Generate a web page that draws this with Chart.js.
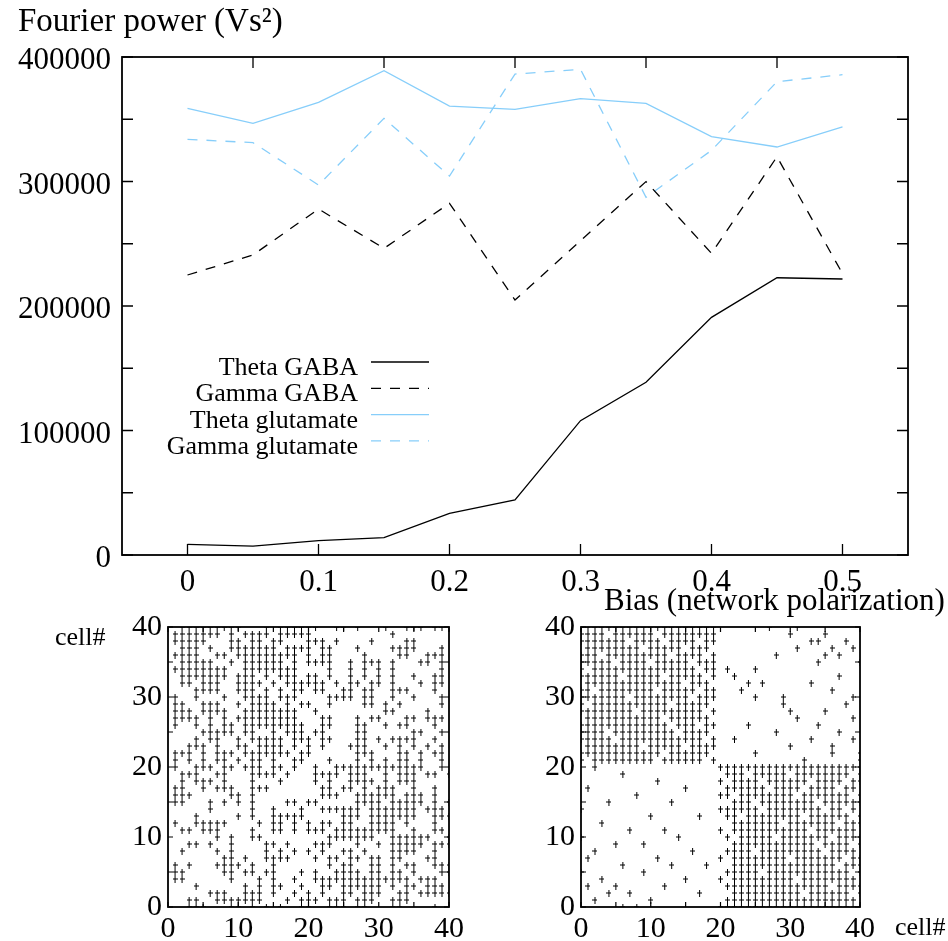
<!DOCTYPE html>
<html>
<head>
<meta charset="utf-8">
<script src="https://cdn.jsdelivr.net/npm/chart.js@4.4.1/dist/chart.umd.min.js"></script>
<style>
  html, body { margin: 0; padding: 0; background: #fff; }
  body { width: 948px; height: 941px; position: relative; overflow: hidden; }
  canvas { position: absolute; }
</style>
</head>
<body>
<canvas id="power" width="948" height="600" style="left:0;top:0"></canvas>
<canvas id="rasterUniform" width="474" height="361" style="left:0;top:580px"></canvas>
<canvas id="rasterPolarized" width="474" height="361" style="left:474px;top:580px"></canvas>
<script>
// ---- Fourier power vs. bias ----
const bias = [0, 0.05, 0.1, 0.15, 0.2, 0.25, 0.3, 0.35, 0.4, 0.45, 0.5];
const thetaGABA      = [8600, 7200, 11500, 13900, 33500, 44200, 107900, 138700, 190900, 222700, 221700];
const gammaGABA      = [224900, 241000, 277900, 246300, 282500, 204800, 252500, 299900, 242300, 319900, 226000];
const thetaGlutamate = [358800, 346700, 363600, 389000, 360600, 358000, 366500, 362800, 336000, 327700, 343800];
const gammaGlutamate = [333900, 331200, 297200, 350700, 304400, 386300, 390100, 287300, 325000, 380200, 385800];
const seriesNames = ['Theta GABA', 'Gamma GABA', 'Theta glutamate', 'Gamma glutamate'];

const biasTicks = [0, 0.1, 0.2, 0.3, 0.4, 0.5];
const biasTopTicks = [0.05, 0.15, 0.25, 0.35, 0.45];
const powerTicks = [0, 100000, 200000, 300000, 400000];
const powerTickMarks = [0, 50000, 100000, 150000, 200000, 250000, 300000, 350000, 400000];

// ---- spike rasters: for each cell (row 40 first, down to row 0), the cells it fires with ----
const uniformRows = [
  [2,3,4,5,6,7,8,9,10,14,16,17,18,19,20,21,24,25,27,31,34,35,36,38,39],
  [1,2,3,4,5,6,7,9,11,12,13,14,16,17,18,19,20,32],
  [1,2,3,4,5,9,10,12,13,15,16,20,21,22,24,29,34,35],
  [2,3,4,6,9,10,11,12,13,14,15,17,18,19,20,22,23,27,32,33,34,35,39],
  [1,2,3,4,7,8,10,11,12,13,14,15,16,17,18,20,22,23,28,33,34,37,38,39],
  [2,3,4,5,6,9,11,12,13,14,15,16,18,20,21,22,23,26,28,29,30,32,36,37,39],
  [1,2,3,4,5,6,7,8,11,12,13,14,15,16,17,18,23,26,28,30,32,39],
  [2,3,4,5,6,7,8,10,11,12,14,16,17,18,20,21,23,26,28,30,32,35,38,39],
  [2,3,5,6,7,10,11,12,13,15,17,18,19,20,21,22,24,26,27,29,30,32,36,38,39],
  [4,5,6,7,10,11,12,14,16,18,19,21,22,25,26,28,29,32,33,34,38],
  [1,4,8,11,12,13,14,16,17,18,23,24,25,26,28,29,32,35,39],
  [1,2,5,6,7,10,12,13,14,15,17,19,20,23,28,29,31,33,39],
  [1,2,3,5,6,7,8,11,12,13,14,15,16,17,18,21,31,32,37],
  [1,2,3,4,6,8,10,11,12,13,14,15,16,17,18,22,23,27,29,30,34,35,37,38,39],
  [1,4,6,8,9,11,12,13,14,15,16,17,18,19,22,23,27,28,31,33,34,38],
  [5,6,7,8,9,11,12,15,17,18,19,21,22,27,28,35,36,39],
  [4,6,7,10,12,13,14,15,16,18,19,20,22,23,27,28,30,32,33,34,35,38],
  [3,4,5,7,10,11,13,14,15,16,18,20,22,26,27,28,31,33,35,37,39],
  [1,2,3,5,7,8,9,11,12,13,14,15,16,17,19,20,27,28,29,33,34,36,38,39],
  [1,3,5,7,8,10,12,13,15,18,19,23,27,29,31,33,34,36,39],
  [1,4,5,6,8,9,11,12,13,15,16,18,21,24,25,26,27,28,29,30,31,32,33,34,35,36,39],
  [2,3,4,7,8,12,13,14,15,17,21,22,23,24,26,27,28,31,33,34,35,37,38,40],
  [2,4,5,6,8,12,16,21,23,26,27,28,29,31,33,34,35],
  [1,2,5,7,8,9,12,13,14,22,23,25,26,28,30,31,32,35,38],
  [1,2,3,9,10,12,22,23,24,27,28,29,30,31,32,34,35,36,38],
  [1,2,6,8,10,12,17,18,20,21,27,28,29,30,32,33,34,35,36,38,40],
  [6,12,15,19,22,23,24,25,26,27,29,30,31,32,33,34,35,37,38,39],
  [4,10,12,15,16,17,18,19,25,26,27,29,30,31,32,33,34,35,38,39,40],
  [1,4,5,6,7,8,13,15,16,18,20,22,23,25,26,29,30,31,32,34,38],
  [2,3,5,6,7,12,15,16,18,20,21,22,24,25,26,27,28,29,30,31,32,35,38,39],
  [7,9,12,13,23,24,25,26,27,28,29,32,33,34,35,36,37,40],
  [3,4,6,9,14,15,17,21,22,23,27,30,32,33,34,35,36,38,39,40],
  [2,7,9,14,16,18,20,22,25,26,28,32,33,34,35,38],
  [8,9,11,14,15,16,17,21,23,24,26,27,29,30,32,33,37,38],
  [1,3,7,8,9,10,12,15,23,25,26,29,30,32,34,35,38,39,40],
  [1,2,8,9,11,12,14,15,19,21,24,25,26,27,29,30,32,33,35,39,40],
  [1,2,9,13,15,18,21,22,23,24,25,26,27,28,29,30,31,32,33,34,36,37,38],
  [4,11,13,15,16,19,22,23,25,26,27,28,29,30,32,34,35,37,38,39],
  [6,7,8,11,12,13,15,18,20,22,25,26,28,29,30,33,34,36,37,38,39,40],
  [3,4,7,8,9,10,11,12,13,17,19,20,21,23,24,25,27,28,29,32,33,34],
  [3,4,5,9,10,12,14,16,19,20,23,24,25,27,28,32,33,38]
];
const polarizedRows = [
  [0,1,2,3,4,5,6,7,8,9,10,11,12,13,14,15,16,17,18,19,27,31],
  [0,1,2,3,5,6,7,8,9,10,12,13,14,15,16,17,18,19,30,35],
  [0,1,2,3,4,5,6,8,9,10,11,13,14,15,16,18,19,33,34,38],
  [1,2,3,4,5,6,7,8,10,11,12,13,14,16,17,18,31,36,39],
  [0,1,2,4,5,6,7,8,9,10,11,12,14,15,16,17,19,28,35,37],
  [0,1,2,3,4,6,7,8,9,11,12,13,14,15,17,18,19,34,40],
  [0,2,3,4,5,6,7,8,9,10,11,12,13,14,15,16,18,19,21,25],
  [0,1,2,3,4,5,7,8,9,10,11,13,14,15,16,17,19,22,37],
  [1,2,3,4,5,6,7,8,9,10,11,12,13,14,16,17,18,24,26,33],
  [0,1,3,4,5,6,7,8,9,10,12,13,14,15,16,18,19,23,36],
  [0,1,2,3,4,5,6,8,9,10,11,12,13,14,15,17,18,19,25,29,39],
  [0,2,3,4,5,6,7,8,9,10,11,12,14,15,16,17,18,29,38],
  [0,1,2,3,4,5,6,7,9,10,11,12,13,14,15,16,17,19,30,35],
  [1,2,3,4,5,6,7,8,9,10,11,13,14,15,16,17,18,31,39],
  [0,1,2,3,4,5,6,7,8,9,10,11,12,14,15,16,18,19,24,34],
  [0,1,2,3,5,6,7,8,9,10,11,12,13,15,16,17,18,28,37],
  [0,1,2,3,4,6,7,8,9,10,11,12,13,14,15,16,17,19,22,33,39],
  [1,2,3,4,5,6,7,8,10,11,12,13,14,16,17,18,19,30,36],
  [0,1,2,3,4,5,6,7,8,9,10,11,13,14,15,16,17,18,25,36,40],
  [0,2,3,4,5,6,7,8,9,10,12,13,14,15,16,17,19,32,40],
  [2,20,21,22,23,24,25,26,27,28,29,30,31,32,33,34,35,36,37,38,39,40],
  [6,21,22,23,25,26,27,28,29,31,32,33,34,35,36,37,38,40],
  [11,20,22,23,24,25,27,28,29,30,31,32,34,35,36,37,39,40],
  [1,15,21,22,23,24,25,26,28,29,30,31,33,34,35,36,38,39],
  [8,20,21,23,24,25,26,27,28,29,30,32,33,34,35,36,37,38,40],
  [4,13,22,23,24,26,27,28,29,30,31,32,33,35,36,37,38,39,40],
  [0,20,21,22,23,24,25,27,28,29,30,31,32,33,34,36,37,39],
  [10,17,21,22,24,25,26,27,28,29,30,31,33,34,35,36,37,38,40],
  [3,22,23,24,25,26,27,28,30,31,32,33,34,35,36,38,39,40],
  [7,12,20,22,23,24,25,26,27,28,29,30,31,32,34,35,36,37,38,39],
  [0,14,21,23,24,25,26,27,29,30,31,32,33,34,35,37,38,39,40],
  [5,9,22,23,24,25,26,27,28,29,30,31,32,33,35,36,37,38,40],
  [2,16,21,22,23,24,26,27,28,29,30,31,32,33,34,36,37,38,39],
  [1,11,20,22,23,24,25,26,27,28,29,31,32,33,34,35,36,37,39,40],
  [6,13,18,22,23,24,25,26,27,28,29,30,31,32,33,34,35,36,38,39,40],
  [0,9,21,22,23,24,25,27,28,29,30,31,32,33,34,35,36,37,38,40],
  [3,15,20,22,23,24,25,26,27,28,29,30,32,33,34,35,36,37,38,39],
  [1,5,12,21,22,23,24,25,26,27,28,29,30,31,32,33,34,35,37,38,39,40],
  [4,7,17,22,23,24,25,26,27,28,29,30,31,33,34,35,36,37,38,40],
  [2,10,21,22,23,24,25,26,27,28,29,30,31,32,33,34,35,36,37,38,39],
  [6,8,20,21,22,23,24,25,26,27,28,29,30,31,32,33,34,35,36,37,38,39,40]
];
const cellTicks = [0, 10, 20, 30, 40];
const cellTickMarks = [0, 5, 10, 15, 20, 25, 30, 35, 40];

const SERIF = "'Liberation Serif', 'Times New Roman', serif";
const SKY = 'rgb(135, 206, 250)';
Chart.defaults.font.family = SERIF;
Chart.defaults.color = '#000';

// Small "+" glyph used for raster events (taller than wide)
const plusGlyph = (() => {
  const c = document.createElement('canvas');
  c.width = 5; c.height = 7;
  const g = c.getContext('2d');
  g.fillStyle = '#000';
  g.fillRect(2, 0, 1, 7);
  g.fillRect(0, 3, 5, 1);
  return c;
})();

// Border box with inward tick marks on all four sides
const framePlugin = {
  id: 'frame',
  afterDraw(chart, args, o) {
    const { ctx, chartArea: a, scales } = chart;
    ctx.save();
    ctx.strokeStyle = '#000';
    ctx.lineWidth = o.tickWidth;
    ctx.beginPath();
    const L = o.tickLen;
    (o.bottom || []).forEach(v => { const x = scales.x.getPixelForValue(v); ctx.moveTo(x, a.bottom); ctx.lineTo(x, a.bottom - L); });
    (o.top || []).forEach(v => { const x = scales.x.getPixelForValue(v); ctx.moveTo(x, a.top); ctx.lineTo(x, a.top + L); });
    (o.left || []).forEach(v => { const y = scales.y.getPixelForValue(v); ctx.moveTo(a.left, y); ctx.lineTo(a.left + L, y); });
    (o.right || []).forEach(v => { const y = scales.y.getPixelForValue(v); ctx.moveTo(a.right, y); ctx.lineTo(a.right - L, y); });
    ctx.stroke();
    ctx.lineWidth = o.lineWidth;
    ctx.strokeRect(a.left, a.top, a.right - a.left, a.bottom - a.top);
    ctx.restore();
  }
};

// Free-standing captions drawn on a chart's canvas
const captionPlugin = {
  id: 'captions',
  afterDraw(chart, args, o) {
    const ctx = chart.ctx;
    ctx.save();
    ctx.fillStyle = '#000';
    (o.items || []).forEach(c => {
      ctx.font = c.size + 'px ' + SERIF;
      ctx.textAlign = c.align || 'left';
      ctx.textBaseline = 'alphabetic';
      ctx.fillText(c.text, c.x, c.y);
    });
    ctx.restore();
  }
};

// Key: right-aligned names with a line sample to their right
const keyPlugin = {
  id: 'key',
  afterDraw(chart, args, o) {
    const ctx = chart.ctx;
    ctx.save();
    chart.data.datasets.forEach((ds, i) => {
      const yLine = o.y + i * o.gap;
      ctx.font = o.size + 'px ' + SERIF;
      ctx.fillStyle = '#000';
      ctx.textAlign = 'right';
      ctx.textBaseline = 'alphabetic';
      ctx.fillText(ds.label, o.textRight, yLine + o.baselineShift);
      ctx.strokeStyle = ds.borderColor;
      ctx.lineWidth = ds.borderWidth;
      ctx.setLineDash(ds.borderDash || []);
      ctx.beginPath();
      ctx.moveTo(o.lineStart, yLine);
      ctx.lineTo(o.lineEnd, yLine);
      ctx.stroke();
    });
    ctx.restore();
  }
};

function fixedTicks(values) {
  return scale => { scale.ticks = values.map(v => ({ value: v })); };
}

const lineDash = [10, 9];
new Chart(document.getElementById('power'), {
  type: 'line',
  data: {
    datasets: [
      { label: seriesNames[0], data: bias.map((b, i) => ({ x: b, y: thetaGABA[i] })), borderColor: '#000', borderWidth: 1.3 },
      { label: seriesNames[1], data: bias.map((b, i) => ({ x: b, y: gammaGABA[i] })), borderColor: '#000', borderWidth: 1.3, borderDash: lineDash },
      { label: seriesNames[2], data: bias.map((b, i) => ({ x: b, y: thetaGlutamate[i] })), borderColor: SKY, borderWidth: 1.3 },
      { label: seriesNames[3], data: bias.map((b, i) => ({ x: b, y: gammaGlutamate[i] })), borderColor: SKY, borderWidth: 1.3, borderDash: lineDash }
    ]
  },
  options: {
    responsive: false, animation: false, devicePixelRatio: 1,
    layout: { padding: { left: 0, top: 57, right: 40, bottom: 0 } },
    elements: { point: { radius: 0 }, line: { tension: 0 } },
    plugins: {
      legend: { display: false }, tooltip: { enabled: false },
      frame: { lineWidth: 1.8, tickWidth: 1.3, tickLen: 11, bottom: biasTicks, top: biasTopTicks, left: powerTickMarks, right: powerTickMarks },
      key: { y: 362, gap: 26.3, size: 26, textRight: 358, lineStart: 371, lineEnd: 429, baselineShift: 13 },
      captions: { items: [ { text: 'Fourier power (Vs²)', x: 18, y: 31, size: 33 } ] }
    },
    scales: {
      x: {
        type: 'linear', min: -0.05, max: 0.55,
        afterBuildTicks: fixedTicks(biasTicks),
        afterFit: s => { s.height = 45; },
        grid: { display: false, drawTicks: false }, border: { display: false },
        ticks: { font: { size: 31 }, padding: 9, autoSkip: false, maxRotation: 0, callback: v => String(v) }
      },
      y: {
        type: 'linear', min: 0, max: 400000,
        afterBuildTicks: fixedTicks(powerTicks),
        afterFit: s => { s.width = 122; },
        grid: { display: false, drawTicks: false }, border: { display: false },
        ticks: { font: { size: 31 }, padding: 11, labelOffset: 4, callback: v => String(v) }
      }
    }
  },
  plugins: [framePlugin, keyPlugin, captionPlugin]
});

function rasterPoints(rows) {
  const pts = [];
  rows.forEach((cols, i) => { const cell = 40 - i; cols.forEach(c => pts.push({ x: c, y: cell })); });
  return pts;
}

function rasterChart(id, rows, pad, captions) {
  return new Chart(document.getElementById(id), {
    type: 'scatter',
    data: { datasets: [{ data: rasterPoints(rows), pointStyle: plusGlyph, pointRadius: 3, borderColor: '#000', backgroundColor: '#000' }] },
    options: {
      responsive: false, animation: false, devicePixelRatio: 1,
      layout: { padding: pad },
      plugins: {
        legend: { display: false }, tooltip: { enabled: false },
        frame: { lineWidth: 1.8, tickWidth: 1.2, tickLen: 5, bottom: cellTickMarks, top: cellTickMarks, left: cellTickMarks, right: cellTickMarks },
        captions: { items: captions }
      },
      scales: {
        x: {
          type: 'linear', min: 0, max: 40,
          afterBuildTicks: fixedTicks(cellTicks),
          afterFit: s => { s.height = 34; },
          grid: { display: false, drawTicks: false }, border: { display: false },
          ticks: { font: { size: 30 }, padding: 4, autoSkip: false, maxRotation: 0 }
        },
        y: {
          type: 'linear', min: 0, max: 40,
          afterBuildTicks: fixedTicks(cellTicks),
          afterFit: s => { s.width = pad.yWidth; },
          grid: { display: false, drawTicks: false }, border: { display: false },
          ticks: { font: { size: 30 }, padding: 6 }
        }
      }
    },
    plugins: [framePlugin, captionPlugin]
  });
}

rasterChart('rasterUniform', uniformRows, { left: 0, top: 47, right: 25, bottom: 0, yWidth: 168 },
  [ { text: 'cell#', x: 55, y: 65, size: 26 } ]);
rasterChart('rasterPolarized', polarizedRows, { left: 0, top: 47, right: 88, bottom: 0, yWidth: 107 },
  [ { text: 'Bias (network polarization)', x: 130, y: 30, size: 31 },
    { text: 'cell#', x: 421, y: 355, size: 26 } ]);
</script>
</body>
</html>
